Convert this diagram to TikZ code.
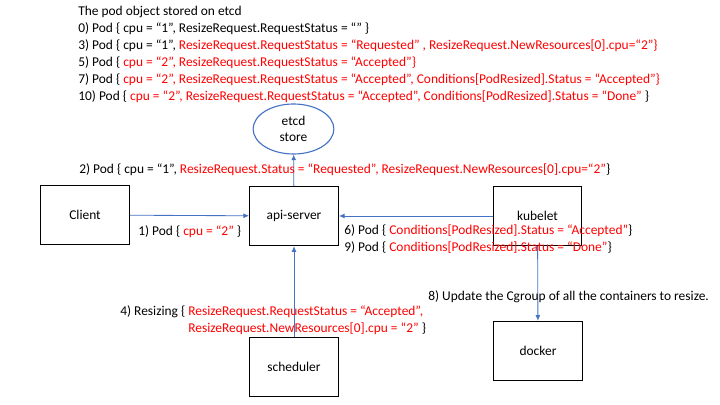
\documentclass[tikz,border=0pt]{standalone}
\usepackage{fontspec}
\setmainfont{Carlito}
\usepackage{tikz}
\usetikzlibrary{shapes.geometric, arrows.meta, positioning, calc}
\definecolor{linkblue}{RGB}{68,114,196}
\newcommand{\rd}[1]{\textcolor{red}{#1}}

\begin{document}
\begin{tikzpicture}[x=0.025cm, y=-0.025cm, font=\fontsize{9.55}{11.5}\selectfont,
  comp/.style={draw, line width=0.8pt, minimum width=2.22cm, minimum height=1.48cm, inner sep=0pt},
  link/.style={linkblue, line width=0.6pt, -{Latex[length=4pt, width=3.5pt]}},
  msg/.style={anchor=west, inner sep=0pt}]
\useasboundingbox (0,0) rectangle (720,405);

% Components
\node[comp] (client) at (85,215) {Client};
\node[comp] (api) at (294,216) {api-server};
\node[comp] (kubelet) at (537.5,216) {kubelet};
\node[comp] (scheduler) at (294,367) {scheduler};
\node[comp] (docker) at (538,351) {docker};
\node[draw=linkblue, line width=0.8pt, ellipse, minimum width=2.02cm, minimum height=1.25cm,
      inner sep=0pt, align=center] (etcd) at (293.5,129) {etcd\\store};

% Stored object history
\node[msg] (title) at (78,12) {The pod object stored on etcd};
\node[msg] (s0) at (78,29) {0) Pod \{ cpu = “1”, ResizeRequest.RequestStatus = “” \}};
\node[msg] (s3) at (78,46) {3) Pod \{ cpu = “1”, \rd{ResizeRequest.RequestStatus = “Requested” , ResizeRequest.NewResources[0].cpu=“2”\}}};
\node[msg] (s5) at (78,63) {5) Pod \{ \rd{cpu = “2”, ResizeRequest.RequestStatus = “Accepted”\}}};
\node[msg] (s7) at (78,80) {7) Pod \{ \rd{cpu = “2”, ResizeRequest.RequestStatus = “Accepted”, Conditions[PodResized].Status = “Accepted”\}}};
\node[msg] (s10) at (78,97) {10) Pod \{ \rd{cpu = “2”, ResizeRequest.RequestStatus = “Accepted”, Conditions[PodResized].Status = “Done”} \}};

% Requests
\draw[link] (client) -- (api);
\draw[link] (kubelet) -- (api);
\draw[link] (scheduler) -- (api);
\draw[link] (api) -- (etcd);
\draw[link] (kubelet) -- (docker);

% Messages
\node[msg] (m1) at (138,232) {1) Pod \{ \rd{cpu = “2”} \}};
\node[msg] (m2) at (79,170) {2) Pod \{ cpu = “1”, \rd{ResizeRequest.Status = “Requested”, ResizeRequest.NewResources[0].cpu=“2”}\}};
\node[msg] (m6) at (344,231) {6) Pod \{ \rd{Conditions[PodResized].Status = “Accepted”}\}};
\node[msg] (m9) at (344,248) {9) Pod \{ \rd{Conditions[PodResized].Status = “Done”}\}};
\node[msg] (m4) at (120,312) {4) Resizing \{ \rd{ResizeRequest.RequestStatus = “Accepted”,}};
\node[msg] (m4b) at (120,329) {\hphantom{4) Resizing \{ }\rd{ResizeRequest.NewResources[0].cpu = “2”} \}};
\node[msg] (m8) at (428,297) {8) Update the Cgroup of all the containers to resize.};
\end{tikzpicture}
\end{document}
